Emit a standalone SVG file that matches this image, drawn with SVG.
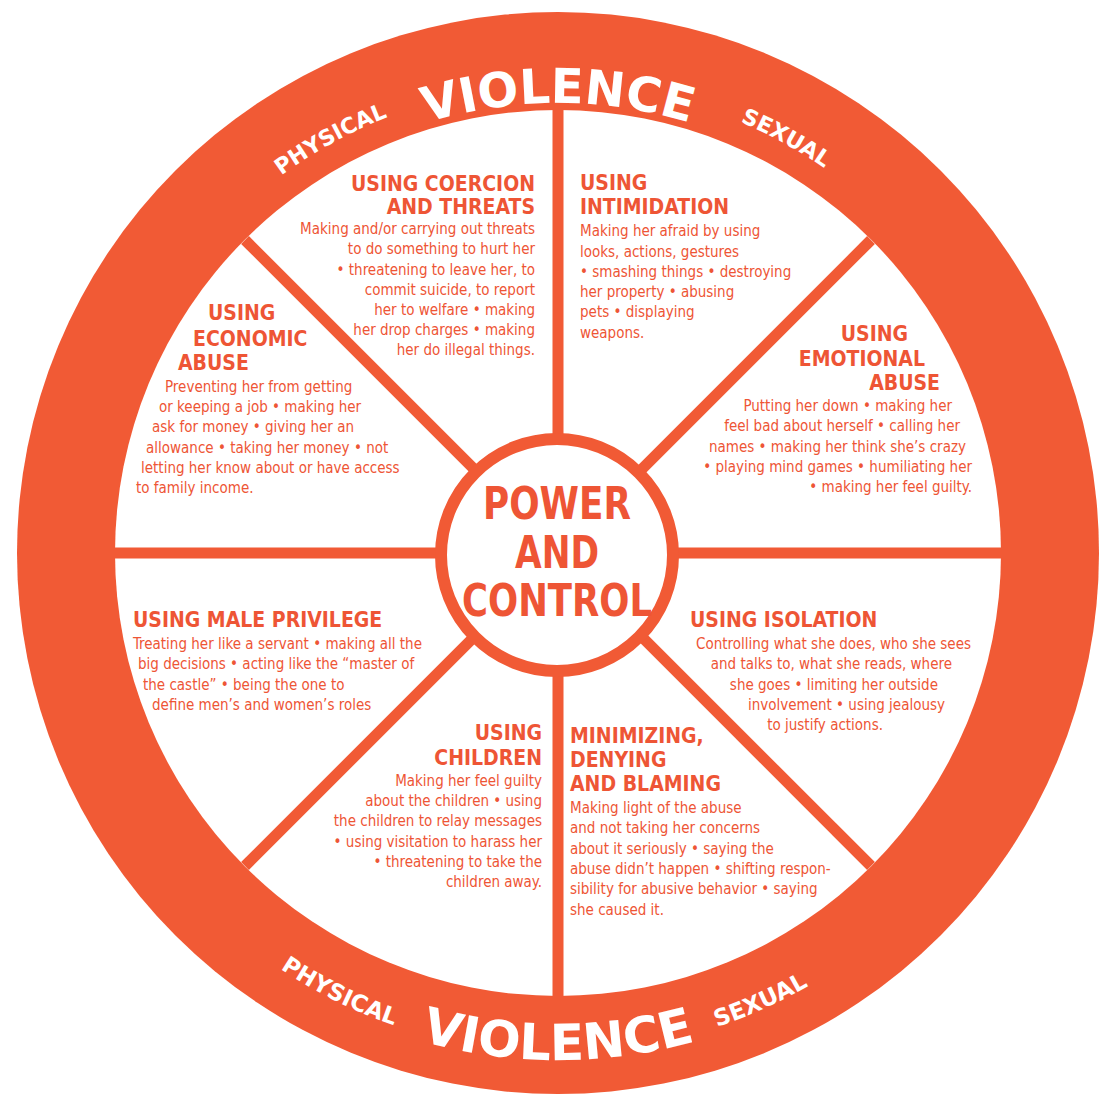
<svg xmlns="http://www.w3.org/2000/svg" xmlns:xlink="http://www.w3.org/1999/xlink" width="1108" height="1107" viewBox="0 0 1108 1107">
<style>
.h{font-family:"DejaVu Sans Condensed","DejaVu Sans",sans-serif;font-weight:bold;font-size:21px;fill:#EE5535}
.b{font-family:"DejaVu Sans Condensed","DejaVu Sans",sans-serif;font-size:15px;fill:#EE5535}
.r{text-anchor:end}
.c{font-family:"DejaVu Sans Condensed","DejaVu Sans",sans-serif;font-weight:bold;font-size:44px;fill:#EE5535;text-anchor:middle}
.v{font-family:"DejaVu Sans",sans-serif;font-weight:bold;fill:#fff}
.sp{stroke:#F15A35;stroke-width:11}
</style>
<defs>
<path id="topV" d="M108,553 A450,450 0 0 1 1008,553"/>
<path id="topS" d="M90,553 A468,468 0 0 1 1026,553"/>
<path id="botV" d="M51,553 A507,507 0 0 0 1065,553"/>
<path id="botS" d="M58,553 A500,500 0 0 0 1058,553"/>
</defs>
<g id="wheel">
<circle cx="558" cy="553" r="541" fill="#F15A35"/>
<circle cx="558" cy="553" r="443" fill="#fff"/>
</g>
<g id="connectors">
<line class="sp" x1="558" y1="110" x2="558" y2="996"/>
<line class="sp" x1="115" y1="553" x2="1001" y2="553"/>
<line class="sp" x1="245" y1="240" x2="871" y2="866"/>
<line class="sp" x1="871" y1="240" x2="245" y2="866"/>
</g>
<g id="center">
<circle cx="557" cy="555" r="116" fill="#fff" stroke="#F15A35" stroke-width="12"/>
<text class="c" x="557" y="519" textLength="148" lengthAdjust="spacingAndGlyphs">POWER</text>
<text class="c" x="557" y="568" textLength="84" lengthAdjust="spacingAndGlyphs">AND</text>
<text class="c" x="557" y="616" textLength="190" lengthAdjust="spacingAndGlyphs">CONTROL</text>
</g>
<g id="rim">
<text class="v" font-size="48"><textPath xlink:href="#topV" href="#topV" startOffset="50%" text-anchor="middle">VIOLENCE</textPath></text>
<text class="v" font-size="22"><textPath xlink:href="#topS" href="#topS" startOffset="34%" text-anchor="middle">PHYSICAL</textPath></text>
<text class="v" font-size="22"><textPath xlink:href="#topS" href="#topS" startOffset="66%" text-anchor="middle">SEXUAL</textPath></text>
<text class="v" font-size="50"><textPath xlink:href="#botV" href="#botV" startOffset="50%" text-anchor="middle">VIOLENCE</textPath></text>
<text class="v" font-size="23"><textPath xlink:href="#botS" href="#botS" startOffset="35.3%" text-anchor="middle">PHYSICAL</textPath></text>
<text class="v" font-size="23"><textPath xlink:href="#botS" href="#botS" startOffset="63.5%" text-anchor="middle">SEXUAL</textPath></text>
</g>
<g id="coercion">
<text class="h r" x="535" y="191">USING COERCION</text>
<text class="h r" x="535" y="214">AND THREATS</text>
<text class="b r" x="535" y="234">Making and/or carrying out threats</text>
<text class="b r" x="535" y="254">to do something to hurt her</text>
<text class="b r" x="535" y="275">• threatening to leave her, to</text>
<text class="b r" x="535" y="295">commit suicide, to report</text>
<text class="b r" x="535" y="315">her to welfare • making</text>
<text class="b r" x="535" y="335">her drop charges • making</text>
<text class="b r" x="535" y="355">her do illegal things.</text>
</g>
<g id="intimidation">
<text class="h" x="580" y="190">USING</text>
<text class="h" x="580" y="214">INTIMIDATION</text>
<text class="b" x="580" y="236">Making her afraid by using</text>
<text class="b" x="580" y="257">looks, actions, gestures</text>
<text class="b" x="580" y="277">• smashing things • destroying</text>
<text class="b" x="580" y="297">her property • abusing</text>
<text class="b" x="580" y="317">pets • displaying</text>
<text class="b" x="580" y="338">weapons.</text>
</g>
<g id="economic">
<text class="h" x="208" y="320">USING</text>
<text class="h" x="193" y="346">ECONOMIC</text>
<text class="h" x="178" y="370">ABUSE</text>
<text class="b" x="165" y="392">Preventing her from getting</text>
<text class="b" x="159" y="412">or keeping a job • making her</text>
<text class="b" x="152" y="432">ask for money • giving her an</text>
<text class="b" x="146" y="453">allowance • taking her money • not</text>
<text class="b" x="141" y="473">letting her know about or have access</text>
<text class="b" x="136" y="493">to family income.</text>
</g>
<g id="emotional">
<text class="h r" x="908" y="341">USING</text>
<text class="h r" x="925" y="366">EMOTIONAL</text>
<text class="h r" x="940" y="390">ABUSE</text>
<text class="b r" x="952" y="411">Putting her down • making her</text>
<text class="b r" x="960" y="431">feel bad about herself • calling her</text>
<text class="b r" x="966" y="452">names • making her think she’s crazy</text>
<text class="b r" x="972" y="472">• playing mind games • humiliating her</text>
<text class="b r" x="972" y="492">• making her feel guilty.</text>
</g>
<g id="privilege">
<text class="h" x="133" y="627">USING MALE PRIVILEGE</text>
<text class="b" x="133" y="649">Treating her like a servant • making all the</text>
<text class="b" x="138" y="669">big decisions • acting like the “master of</text>
<text class="b" x="143" y="690">the castle” • being the one to</text>
<text class="b" x="152" y="710">define men’s and women’s roles</text>
</g>
<g id="isolation">
<text class="h" x="690" y="627">USING ISOLATION</text>
<text class="b r" x="971" y="649">Controlling what she does, who she sees</text>
<text class="b r" x="952" y="669">and talks to, what she reads, where</text>
<text class="b r" x="938" y="690">she goes • limiting her outside</text>
<text class="b r" x="945" y="710">involvement • using jealousy</text>
<text class="b r" x="883" y="730">to justify actions.</text>
</g>
<g id="children">
<text class="h r" x="542" y="740">USING</text>
<text class="h r" x="542" y="765">CHILDREN</text>
<text class="b r" x="542" y="786">Making her feel guilty</text>
<text class="b r" x="542" y="806">about the children • using</text>
<text class="b r" x="542" y="826">the children to relay messages</text>
<text class="b r" x="542" y="847">• using visitation to harass her</text>
<text class="b r" x="542" y="867">• threatening to take the</text>
<text class="b r" x="542" y="887">children away.</text>
</g>
<g id="minimizing">
<text class="h" x="570" y="743">MINIMIZING,</text>
<text class="h" x="570" y="767">DENYING</text>
<text class="h" x="570" y="791">AND BLAMING</text>
<text class="b" x="570" y="813">Making light of the abuse</text>
<text class="b" x="570" y="833">and not taking her concerns</text>
<text class="b" x="570" y="854">about it seriously • saying the</text>
<text class="b" x="570" y="874">abuse didn’t happen • shifting respon-</text>
<text class="b" x="570" y="894">sibility for abusive behavior • saying</text>
<text class="b" x="570" y="915">she caused it.</text>
</g>
</svg>
